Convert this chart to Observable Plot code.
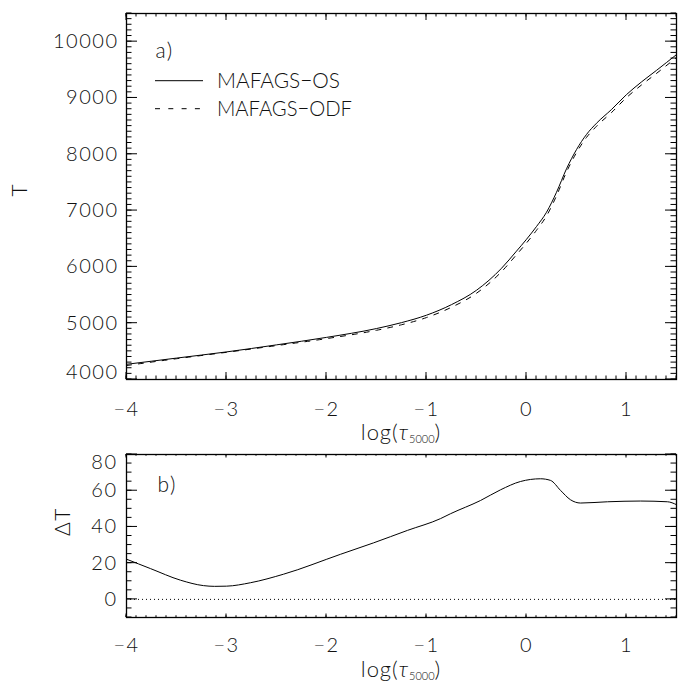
<!DOCTYPE html>
<html><head><meta charset="utf-8">
<script src="https://cdn.jsdelivr.net/npm/d3@7"></script>
<script src="https://cdn.jsdelivr.net/npm/@observablehq/plot@0.6"></script>
<style>
body{margin:0;background:#fff;}
#wrap{position:relative;width:678px;height:684px;background:#fff;}
#wrap svg{position:absolute;left:0;}
</style></head><body><div id="wrap"></div>
<script>
// ---- data ----
const logTau = [-4,-3.5,-3,-2.5,-2,-1.5,-1.25,-1,-0.75,-0.5,-0.25,-0.1,0,0.1,0.2,0.3,0.4,0.5,0.6,0.7,0.85,1.0,1.15,1.3,1.5];
const tOS   = [4270,4380,4490,4615,4748,4905,5010,5142,5330,5585,5975,6280,6490,6717,6970,7325,7742,8083,8352,8551,8795,9060,9285,9490,9770];
const tODF  = [4248,4369,4483,4602,4726,4874,4972,5100,5283,5532,5914,6216,6424,6650,6904,7262,7685,8029,8299,8497,8741,9006,9231,9436,9718];
const logTauD = [-4,-3.76,-3.46,-3.23,-3.12,-3.0,-2.76,-2.43,-1.86,-1.53,-1.19,-0.86,-0.76,-0.46,-0.26,-0.06,0.14,0.24,0.34,0.44,0.54,0.81,1.14,1.41,1.5];
const dT      = [22.2,17,10.6,7.6,7.2,7.3,9.2,13.9,24.9,31.2,38.1,44.6,47.3,54.6,60.5,65.1,66.6,65.7,60.2,55,53.2,53.9,54.3,53.9,52.3];
const xTicks = [-4,-3,-2,-1,0,1];
const tTicks = [5000,6000,7000,8000,9000,10000];
const tTickBottom = [4000];
const dTicks = [0,20,40,60];
const dTickTop = [80];
const seriesNames = ["MAFAGS\u2212OS","MAFAGS\u2212ODF"];
const panelLabels = ["a)","b)"];
const yTitles = ["T","\u0394T"];
const zeroLine = [0];

const font = "Lato, 'Open Sans', sans-serif";
const fmt = d3.format("d");
const xMinor = d3.range(-40,16).map(i => i/10);
const tMinor = d3.range(40,106).map(i => i*100);
const dMinor = d3.range(-2,17).map(i => i*5);

const osRows  = logTau.map((x,i) => ({x, t: tOS[i]}));
const odfRows = logTau.map((x,i) => ({x, t: tODF[i]}));
const dRows   = logTauD.map((x,i) => ({x, d: dT[i]}));

const W = 678, ML = 126, MR = 2;
const style = {fontFamily: font, fontSize: "20px", fontWeight: 300, color: "#111", background: "white", letterSpacing: "1.5px"};

// ---- top panel ----
const topCfg = {h: 452, mt: 13, mb: 73};
const topPlot = Plot.plot({
  width: W, height: topCfg.h,
  marginTop: topCfg.mt, marginBottom: topCfg.mb, marginLeft: ML, marginRight: MR,
  x: {domain: [-4, 1.5]},
  y: {domain: [4000, 10500]},
  style,
  marks: [
    Plot.line(osRows, {x:"x", y:"t", stroke:"black", strokeWidth:1, curve:"monotone-x"}),
    Plot.line(odfRows, {x:"x", y:"t", stroke:"black", strokeWidth:1, strokeDasharray:"5,7", curve:"monotone-x"}),
    Plot.axisX(xTicks, {anchor:"bottom", tickSize:0, tickPadding:22, tickFormat:fmt, label:null}),
    Plot.axisY(tTicks, {anchor:"left", tickSize:0, tickPadding:8, tickFormat:fmt, label:null}),
    Plot.axisY(tTickBottom, {anchor:"left", tickSize:0, tickPadding:8, tickFormat:fmt, dy:-7, label:null}),
    Plot.frame({stroke:"black", strokeWidth:1.3}),
    Plot.text([panelLabels[0]], {text: d => d, frameAnchor:"top-left", dx:29, dy:30, fontSize:21, textAnchor:"start"}),
    Plot.text([yTitles[0]], {text: d => d, frameAnchor:"left", dx:-106, rotate:-90, fontSize:21})
  ]
});

// ---- bottom panel ----
const botTop = 444;
const botCfg = {h: 684 - botTop, mt: 454 - botTop, mb: 684 - 617};
const botPlot = Plot.plot({
  width: W, height: botCfg.h,
  marginTop: botCfg.mt, marginBottom: botCfg.mb, marginLeft: ML, marginRight: MR,
  x: {domain: [-4, 1.5]},
  y: {domain: [-10, 80]},
  style,
  marks: [
    Plot.ruleY(zeroLine, {stroke:"black", strokeWidth:1, strokeDasharray:"1,3"}),
    Plot.line(dRows, {x:"x", y:"d", stroke:"black", strokeWidth:1, curve:"monotone-x"}),
    Plot.axisX(xTicks, {anchor:"bottom", tickSize:0, tickPadding:20, tickFormat:fmt, label:null}),
    Plot.axisY(dTicks, {anchor:"left", tickSize:0, tickPadding:9, tickFormat:fmt, label:null}),
    Plot.axisY(dTickTop, {anchor:"left", tickSize:0, tickPadding:9, tickFormat:fmt, dy:8, label:null}),
    Plot.frame({stroke:"black", strokeWidth:1.3}),
    Plot.text([panelLabels[1]], {text: d => d, frameAnchor:"top-left", dx:31, dy:23, fontSize:21, textAnchor:"start"}),
    Plot.text([yTitles[1]], {text: d => d, frameAnchor:"left", dx:-63, rotate:-90, fontSize:21})
  ]
});

const wrap = document.getElementById("wrap");
topPlot.style.top = "0px";
botPlot.style.top = botTop + "px";
wrap.appendChild(topPlot);
wrap.appendChild(botPlot);

// inward ticks on all four sides (IDL style), positioned through each plot's scales
function inwardTicks(plot, cfg, xMaj, yMaj, yMin, xLen, yLen) {
  const sx = plot.scale("x"), sy = plot.scale("y");
  const y0 = cfg.mt, y1 = cfg.h - cfg.mb, x0 = ML, x1 = W - MR;
  const g = d3.select(plot).append("g").attr("stroke", "black").attr("stroke-width", 1);
  const seg = (a, b, c, d) => g.append("line").attr("x1", a).attr("y1", b).attr("x2", c).attr("y2", d);
  xMinor.forEach(v => { const x = sx.apply(v); seg(x, y1, x, y1 - xLen/2); seg(x, y0, x, y0 + xLen/2); });
  xMaj.forEach(v => { const x = sx.apply(v); seg(x, y1, x, y1 - xLen); seg(x, y0, x, y0 + xLen); });
  yMin.forEach(v => { const y = sy.apply(v); if (y < y0 - 0.5 || y > y1 + 0.5) return; seg(x0, y, x0 + yLen/2, y); seg(x1, y, x1 - yLen/2, y); });
  yMaj.forEach(v => { const y = sy.apply(v); seg(x0, y, x0 + yLen, y); seg(x1, y, x1 - yLen, y); });
}
inwardTicks(topPlot, topCfg, xTicks, tTicks.concat(tTickBottom), tMinor, 7, 11);
inwardTicks(botPlot, botCfg, xTicks, dTicks.concat(dTickTop), dMinor, 3.5, 11);

// x-axis titles with subscript
function addXTitle(svg, baseline) {
  const t = d3.select(svg).append("text")
    .attr("x", 401).attr("y", baseline)
    .attr("text-anchor", "middle")
    .attr("font-family", font).attr("font-size", 22).attr("font-weight", 300)
    .attr("letter-spacing", "1px").attr("fill", "#111");
  t.append("tspan").text("log(");
  t.append("tspan").attr("font-style", "italic").text("\u03C4");
  t.append("tspan").attr("font-size", 11).attr("dy", 3).attr("letter-spacing", "0px").text("5000");
  t.append("tspan").attr("dy", -3).text(")");
}
addXTitle(topPlot, 440);
addXTitle(botPlot, 677 - botTop);

// legend
const legendWidths = [123, 135];
const lg = d3.select(topPlot).append("g");
seriesNames.forEach((name, i) => {
  const y = 80.7 + i * 28;
  lg.append("line").attr("x1", 155).attr("x2", 203).attr("y1", y).attr("y2", y)
    .attr("stroke", "black").attr("stroke-width", 1)
    .attr("stroke-dasharray", i ? "5,8.3" : null);
  lg.append("text").attr("x", 217).attr("y", y).attr("dy", "0.36em")
    .attr("text-anchor", "start")
    .attr("font-family", font).attr("font-size", 21).attr("font-weight", 300)
    .attr("letter-spacing", "0px").attr("fill", "#111")
    .attr("textLength", legendWidths[i]).attr("lengthAdjust", "spacingAndGlyphs")
    .text(name);
});
</script></body></html>
